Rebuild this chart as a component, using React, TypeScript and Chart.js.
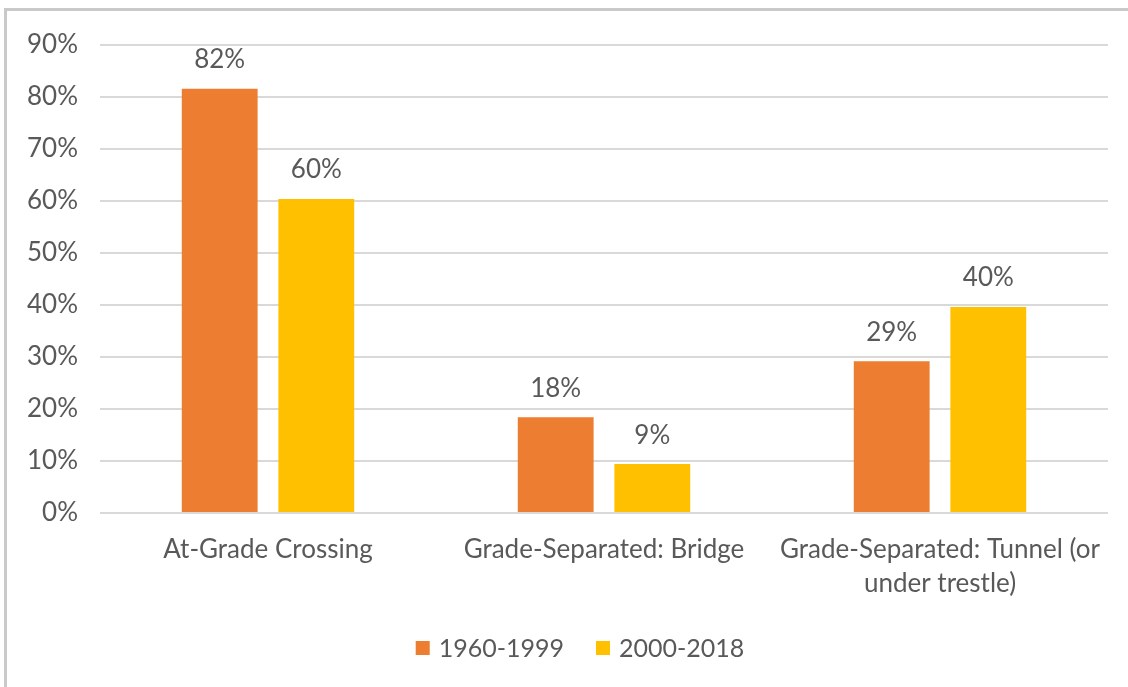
import React, { useEffect, useRef } from "react";
import { Chart, registerables } from "chart.js";

Chart.register(...registerables);

const categories: (string | string[])[] = [
  "At-Grade Crossing",
  "Grade-Separated: Bridge",
  ["Grade-Separated: Tunnel (or", "under trestle)"],
];
const seriesNames = ["1960-1999", "2000-2018"];
const values1960_1999 = [81.6, 18.4, 29.2];
const values2000_2018 = [60.4, 9.4, 39.6];
const dataLabels1960_1999 = ["82%", "18%", "29%"];
const dataLabels2000_2018 = ["60%", "9%", "40%"];
const yTicks = [0, 10, 20, 30, 40, 50, 60, 70, 80, 90];

const COLORS = ["#ED7D31", "#FFC000"];
const TEXT = "#595959";
const FONT = "Lato, 'Open Sans', sans-serif";
const FS = 26;

const dataLabelPlugin = {
  id: "dataLabelPlugin",
  afterDatasetsDraw(chart: any) {
    const ctx = chart.ctx;
    const labels = [dataLabels1960_1999, dataLabels2000_2018];
    ctx.save();
    ctx.font = `${FS}px ${FONT}`;
    ctx.fillStyle = TEXT;
    ctx.textAlign = "center";
    ctx.textBaseline = "middle";
    chart.data.datasets.forEach((_ds: any, di: number) => {
      const meta = chart.getDatasetMeta(di);
      meta.data.forEach((bar: any, i: number) => {
        ctx.fillText(labels[di][i], bar.x, bar.y - 29);
      });
    });
    ctx.restore();
  },
};

const legendPlugin = {
  id: "customLegend",
  afterDraw(chart: any) {
    const ctx = chart.ctx;
    ctx.save();
    ctx.font = `25px ${FONT}`;
    ctx.textBaseline = "middle";
    const box = 14;
    const gap = 9;
    const itemGap = 32;
    const widths = seriesNames.map((n) => ctx.measureText(n).width);
    const total = widths.reduce((a, w) => a + box + gap + w, 0) + itemGap * (seriesNames.length - 1);
    const cx = (chart.chartArea.left + chart.chartArea.right) / 2 - 24;
    let x = cx - total / 2;
    const y = 648;
    seriesNames.forEach((n, i) => {
      ctx.fillStyle = COLORS[i];
      ctx.fillRect(x, y - box / 2, box, box);
      x += box + gap;
      ctx.fillStyle = TEXT;
      ctx.textAlign = "left";
      ctx.fillText(n, x, y + 1);
      x += widths[i] + itemGap;
    });
    ctx.restore();
  },
};

export default function App() {
  const ref = useRef<HTMLCanvasElement>(null);

  useEffect(() => {
    if (!ref.current) return;
    const chart = new Chart(ref.current, {
      type: "bar",
      data: {
        labels: categories,
        datasets: [
          {
            label: seriesNames[0],
            data: values1960_1999,
            backgroundColor: COLORS[0],
            categoryPercentage: 0.575,
            barPercentage: 0.785,
          },
          {
            label: seriesNames[1],
            data: values2000_2018,
            backgroundColor: COLORS[1],
            categoryPercentage: 0.575,
            barPercentage: 0.785,
          },
        ],
      },
      plugins: [dataLabelPlugin, legendPlugin],
      options: {
        animation: false,
        responsive: false,
        maintainAspectRatio: false,
        layout: { padding: { top: 45, right: 20, bottom: 74, left: 0 } },
        plugins: {
          legend: { display: false },
          tooltip: { enabled: false },
        },
        scales: {
          x: {
            grid: { display: false, drawTicks: false },
            border: { display: false },
            ticks: {
              color: TEXT,
              font: { family: FONT, size: FS, lineHeight: 1.32 },
              padding: 19,
              maxRotation: 0,
              minRotation: 0,
              autoSkip: false,
            },
            afterFit(scale: any) {
              scale.height = 100;
            },
          },
          y: {
            min: 0,
            max: 90,
            afterBuildTicks(scale: any) {
              scale.ticks = yTicks.map((v) => ({ value: v }));
            },
            grid: { color: "#d9d9d9", lineWidth: 2, drawTicks: false },
            border: { display: false },
            ticks: {
              color: TEXT,
              font: { family: FONT, size: FS },
              padding: 22,
              callback: (v: any) => `${v}%`,
            },
            afterFit(scale: any) {
              scale.width = 100;
            },
          },
        },
      },
    });
    return () => chart.destroy();
  }, []);

  return (
    <div style={{ position: "fixed", top: 0, left: 0, width: 1128, height: 687, background: "#fff" }}>
      <div
        style={{
          position: "absolute",
          top: 8,
          left: 4,
          width: 1124,
          height: 679,
          borderTop: "3px solid #c9c9c9",
          borderLeft: "3px solid #c9c9c9",
          boxSizing: "border-box",
        }}
      />
      <canvas ref={ref} width={1128} height={687} style={{ position: "absolute", top: 0, left: 0, width: 1128, height: 687 }} />
    </div>
  );
}
